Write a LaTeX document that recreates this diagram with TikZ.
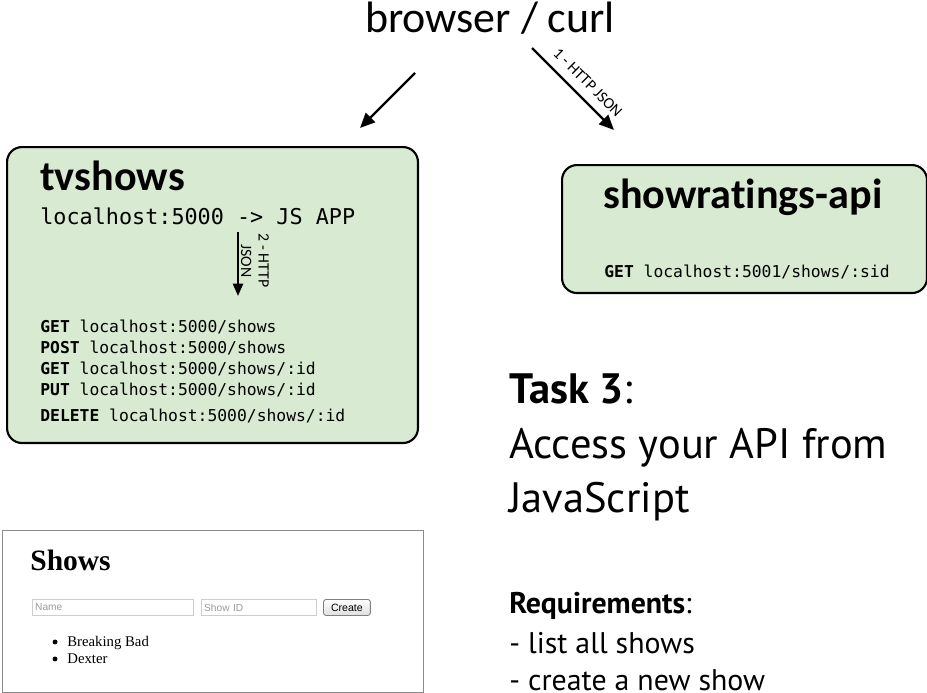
\documentclass[tikz,border=0pt]{standalone}
\usepackage{fontspec}
\setmainfont{Carlito}[Ligatures={TeX,CommonOff}]
\setmonofont{DejaVu Sans Mono}
\newfontfamily\ptsans{PT Sans}
\newfontfamily\shotserif{Liberation Serif}
\newfontfamily\shotsans{Liberation Sans}
\usetikzlibrary{arrows.meta}
\definecolor{boxgreen}{HTML}{D9EAD3}
\definecolor{framegrey}{HTML}{8A8A8A}
\definecolor{fieldgrey}{HTML}{CDCDCD}
\definecolor{hintgrey}{HTML}{9A9A9A}
\newcommand\fsz[1]{\fontsize{#1}{#1}\selectfont}

\begin{document}
\begin{tikzpicture}[x=0.02cm,y=-0.02cm,
 svc/.style={draw=black,line width=1.2pt,fill=boxgreen,rounded corners=8.5pt,anchor=north west,inner sep=0pt},
 ttl/.style={font=\bfseries\fsz{24},anchor=base west,inner sep=0pt},
 api/.style={font=\ttfamily\fsz{9.3},anchor=base west,inner sep=0pt},
 lin/.style={-{Triangle[length=8.5pt,width=7.4pt]},line width=1.4pt},
 lbl/.style={font=\fontsize{9}{10}\selectfont,inner sep=1pt},
 big/.style={font=\ptsans\fsz{24.2},anchor=base west,inner sep=0pt},
 req/.style={font=\ptsans\fsz{17},anchor=base west,inner sep=0pt},
 field/.style={draw=fieldgrey,line width=0.6pt,anchor=north west,minimum height=0.32cm,inner sep=1.5pt,font=\shotsans\fsz{5.8},text=hintgrey,align=left},
 btn/.style={draw=gray,line width=0.5pt,rounded corners=1.5pt,top color=white,bottom color=gray!25,anchor=north west,minimum width=0.94cm,minimum height=0.32cm,inner sep=0pt,font=\shotsans\fsz{6}},
 li/.style={font=\shotserif\fsz{8.4},anchor=base west,inner sep=0pt}]
\useasboundingbox (0,0) rectangle (927,693);
\node[font=\fsz{25},anchor=base,inner sep=0pt] (browser) at (490,32) {browser / curl};
\node[svc,minimum width=8.22cm,minimum height=5.92cm] (tvbox) at (6,146) {};
\node[svc,minimum width=7.3cm,minimum height=2.56cm] (rtbox) at (561,164) {};
\node[ttl] (tv) at (40,190) {tvshows};
\node[ttl] (rt) at (603,208) {showratings-api};
\node[font=\ttfamily\fsz{12.4},anchor=base west,inner sep=0pt] (app) at (40,224) {localhost:5000 -> JS APP};
\foreach \m/\p/\y [count=\i] in {GET/shows/332,POST/shows/353,GET/{shows/:id}/374,PUT/{shows/:id}/395,DELETE/{shows/:id}/421}
 \node[api] (m\i) at (40,\y) {\textbf{\m} localhost:5000/\p};
\node[api] (rtget) at (604,277) {\textbf{GET} localhost:5001/shows/:sid};
\coordinate (b1) at (415,73);
\coordinate (t1) at (360,128);
\coordinate (b2) at (532,48);
\coordinate (t2) at (614,130);
\coordinate (d1) at (238,232);
\coordinate (d2) at (238,296);
\draw[lin] (b1) -- (t1);
\draw[lin] (b2) -- (t2) node[lbl,pos=0.55,sloped,above=4pt] (l1) {1 - HTTP JSON};
\draw[lin,line width=1.3pt,-{Triangle[length=7pt,width=5.7pt]}] (d1) -- (d2) node[lbl,pos=0.45,rotate=-90,anchor=south,align=center] (l2) {2 - HTTP\\JSON};
\node[big] (task) at (509,403) {\textbf{Task 3}:};
\node[big] (acc) at (509,458) {Access your API from};
\node[big] (js) at (509,512) {JavaScript};
\node[req] (req) at (509,613) {\textbf{Requirements}:};
\node[req] (r1) at (509,653) {- list all shows};
\node[req] (r2) at (509,690) {- create a new show};
\node[draw=framegrey,line width=0.8pt,fill=white,anchor=north west,minimum width=8.42cm,minimum height=3.24cm,inner sep=0pt] (shot) at (2,530) {};
\node[font=\shotserif\bfseries\fsz{16.8},anchor=base west,inner sep=0pt] (hd) at (30,570) {Shows};
\node[field,text width=3.11cm] (fname) at (32,599) {Name};
\node[field,text width=2.19cm] (fid) at (201,599) {Show ID};
\node[btn] (create) at (323,599) {Create};
\foreach \t/\y [count=\i] in {Breaking Bad/646,Dexter/663} {
 \node[li] (s\i) at (67,\y) {\t};
 \fill ([xshift=-6.8pt,yshift=2.3pt]s\i.base west) circle (1.4pt);
}
\end{tikzpicture}
\end{document}
